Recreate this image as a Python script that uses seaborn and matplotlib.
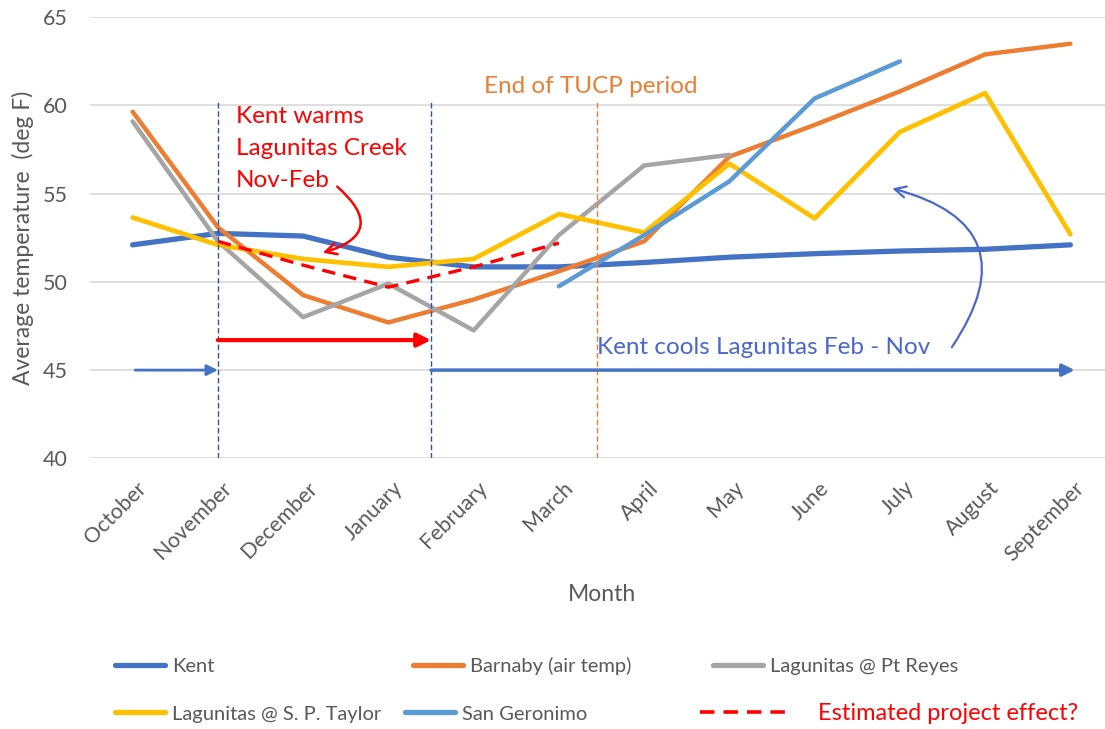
import numpy as np
import pandas as pd
import matplotlib
matplotlib.use("Agg")
import matplotlib.pyplot as plt
import seaborn as sns
from matplotlib.lines import Line2D
from matplotlib.transforms import ScaledTranslation

nan = np.nan

# ------------------ DATA ------------------
months = ['October', 'November', 'December', 'January', 'February', 'March',
          'April', 'May', 'June', 'July', 'August', 'September']

kent = [52.1, 52.75, 52.6, 51.4, 50.85, 50.85, 51.1, 51.4, 51.6, 51.75, 51.85, 52.1]
barnaby = [59.65, 53.1, 49.25, 47.7, 49.0, 50.6, 52.3, 57.1, 58.9, 60.8, 62.9, 63.5]
pt_reyes = [59.1, 52.3, 48.0, 49.9, 47.25, 52.65, 56.6, 57.2, nan, nan, nan, nan]
sp_taylor = [53.65, 52.1, 51.3, 50.85, 51.3, 53.85, 52.8, 56.7, 53.6, 58.5, 60.7, 52.7]
san_geronimo = [nan, nan, nan, nan, nan, 49.75, 52.65, 55.7, 60.4, 62.5, nan, nan]
estimate = [nan, 52.3, 50.95, 49.7, 50.85, 52.2, nan, nan, nan, nan, nan, nan]

# period markers (month index positions)
blue_marks = [1.0, 3.5]
tucp_mark = 5.45

# colours
c_kent = '#4472C4'
c_barn = '#ED7D31'
c_grey = '#A5A5A5'
c_gold = '#FFC000'
c_sang = '#5B9BD5'
c_red = '#FF0000'
c_note = '#4A68CC'
c_text = '#595959'

# ------------------ SETUP ------------------
sns.set_theme(style="white")
plt.rcParams['font.family'] = ['Lato', 'DejaVu Sans']

fig = plt.figure(figsize=(11.05, 7.29), dpi=100)
ax = fig.add_axes([90 / 1105, 1 - 458.3 / 729, 1023 / 1105, 441 / 729])

x = np.arange(len(months))

series = [
    ("Kent", kent, c_kent, 3.8),
    ("Barnaby (air temp)", barnaby, c_barn, 3.2),
    ("Lagunitas @ Pt Reyes", pt_reyes, c_grey, 3.2),
    ("Lagunitas @ S. P. Taylor", sp_taylor, c_gold, 3.4),
    ("San Geronimo", san_geronimo, c_sang, 3.2),
]

for name, vals, color, lw in series:
    df = pd.DataFrame({"month": x, "temp": vals}).dropna()
    sns.lineplot(data=df, x="month", y="temp", color=color, linewidth=lw,
                 errorbar=None, ax=ax, legend=False)

# estimated effect (dashed)
df_est = pd.DataFrame({"month": x, "temp": estimate}).dropna()
sns.lineplot(data=df_est, x="month", y="temp", color=c_red, linewidth=2.4,
             linestyle=(0, (4, 2.5)), errorbar=None, ax=ax, legend=False)

# ------------------ AXES ------------------
ax.set_xlim(-0.5, 11.5)
ax.set_ylim(40, 65)
ax.set_yticks([40, 45, 50, 55, 60, 65])
ax.yaxis.grid(True, color='#D9D9D9', lw=1.2)
ax.xaxis.grid(False)
ax.set_axisbelow(True)
for s in ax.spines.values():
    s.set_visible(False)

ax.set_xticks(x)
ax.set_xticklabels(months, rotation=45, ha='right', va='top', rotation_mode='anchor')
ax.tick_params(axis='both', length=0, colors=c_text, labelsize=15.5)
ax.tick_params(axis='y', pad=16)
ax.tick_params(axis='x', pad=14)
for lab in ax.get_xticklabels():
    lab.set_transform(lab.get_transform() + ScaledTranslation(4 / 100, 0, fig.dpi_scale_trans))

ax.set_xlabel("Month", fontsize=16.5, color=c_text)
ax.set_ylabel("Average temperature  (deg F)", fontsize=16.5, color=c_text)
ax.xaxis.set_label_coords(0.5, -0.285)
ax.yaxis.set_label_coords(-0.055, 0.5)

# ------------------ ANNOTATIONS ------------------
ax.vlines(blue_marks, 40, 60.2, colors='#3050B8', lw=1, linestyles=(0, (4, 2)))
ax.vlines([tucp_mark], 40, 60.2, colors=c_barn, lw=1, linestyles=(0, (4, 2)))

arrow_kw = dict(shrinkA=0, shrinkB=0)
ax.annotate('', xy=(1.0, 45), xytext=(0.03, 45),
            arrowprops=dict(arrowstyle='-|>', color=c_kent, lw=2, mutation_scale=16, **arrow_kw))
ax.annotate('', xy=(11.05, 45), xytext=(3.5, 45),
            arrowprops=dict(arrowstyle='-|>', color=c_kent, lw=2.5, mutation_scale=18, **arrow_kw))
ax.annotate('', xy=(3.5, 46.7), xytext=(1.0, 46.7),
            arrowprops=dict(arrowstyle='-|>', color=c_red, lw=3, mutation_scale=20, **arrow_kw))

ax.text(1.21, 59.97, "Kent warms\nLagunitas Creek\nNov-Feb", color=c_red,
        fontsize=17.5, va='top', ha='left', linespacing=1.65)
ax.annotate('', xy=(2.23, 51.65), xytext=(2.4, 55.4),
            arrowprops=dict(arrowstyle='->', color=c_red, lw=1.8, mutation_scale=20,
                            connectionstyle='arc3,rad=-0.9', **arrow_kw))

ax.text(4.12, 61.05, "End of TUCP period", color=c_barn, fontsize=17.5, va='center', ha='left')

ax.text(5.45, 46.3, "Kent cools Lagunitas Feb - Nov", color=c_note, fontsize=17.5,
        va='center', ha='left')
ax.annotate('', xy=(8.91, 55.3), xytext=(9.61, 46.3),
            arrowprops=dict(arrowstyle='->', color=c_note, lw=1.6, mutation_scale=20,
                            connectionstyle='arc3,rad=0.7', **arrow_kw))

# ------------------ LEGEND ------------------
legend_items = [
    ("Kent", c_kent, 0.104, 0.0864),
    ("Barnaby (air temp)", c_barn, 0.3738, 0.0864),
    ("Lagunitas @ Pt Reyes", c_grey, 0.6452, 0.0864),
    ("Lagunitas @ S. P. Taylor", c_gold, 0.104, 0.0206),
    ("San Geronimo", c_sang, 0.3665, 0.0206),
]
for label, color, lx, ly in legend_items:
    h = Line2D([], [], color=color, lw=3.8)
    fig.legend(handles=[h], labels=[label], loc='center left', bbox_to_anchor=(lx, ly),
               frameon=False, borderpad=0, borderaxespad=0, handlelength=2.5,
               handletextpad=0.35, fontsize=14.5, labelcolor=c_text)

h_est = Line2D([], [], color=c_red, lw=2.6, linestyle=(0, (4, 2.5)))
fig.legend(handles=[h_est], labels=["Estimated project effect?"], loc='center left',
           bbox_to_anchor=(0.6335, 0.0206), frameon=False, borderpad=0, borderaxespad=0,
           handlelength=3.8, handletextpad=1.2, fontsize=17, labelcolor=c_red)

fig.savefig("out.png", dpi=100)
